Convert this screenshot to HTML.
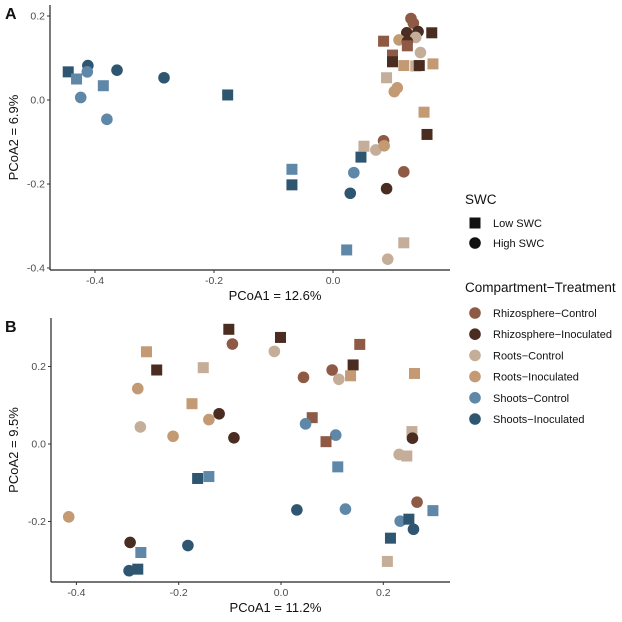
<!DOCTYPE html>
<html><head><meta charset="utf-8"><style>
body{margin:0;background:#fff;}
svg{display:block;font-family:"Liberation Sans",Arial,sans-serif;}
</style></head><body>
<svg id="chart" width="622" height="622" viewBox="0 0 622 622"></svg>
<script>
// Groups: 0 Rhizosphere-Control, 1 Rhizosphere-Inoculated, 2 Roots-Control, 3 Roots-Inoculated, 4 Shoots-Control, 5 Shoots-Inoculated
const groupNames = ["Rhizosphere\u2212Control","Rhizosphere\u2212Inoculated","Roots\u2212Control","Roots\u2212Inoculated","Shoots\u2212Control","Shoots\u2212Inoculated"];
const groupColors = ["#8f5a45","#4a2c20","#c4ad99","#c49a74","#5e87a8","#2e5670"];
// shape: s = Low SWC (square), c = High SWC (circle)
const aX = [-0.445,-0.431,-0.412,-0.413,-0.386,-0.363,-0.424,-0.380,-0.284,-0.177,-0.069,-0.069,0.047,0.035,0.029,0.023,0.092,0.119,0.090,0.119,0.052,0.072,0.085,0.086,0.153,0.158,0.090,0.103,0.108,0.131,0.135,0.124,0.143,0.166,0.085,0.111,0.139,0.125,0.125,0.147,0.100,0.100,0.119,0.139,0.145,0.168];
const aY = [0.067,0.050,0.082,0.067,0.034,0.071,0.006,-0.046,0.053,0.012,-0.165,-0.202,-0.136,-0.173,-0.222,-0.357,-0.379,-0.340,-0.211,-0.171,-0.110,-0.119,-0.097,-0.109,-0.029,-0.082,0.053,0.020,0.029,0.194,0.183,0.160,0.163,0.160,0.140,0.143,0.149,0.139,0.129,0.113,0.107,0.091,0.082,0.081,0.082,0.086];
const aG = [5,4,5,4,4,5,4,4,5,5,4,5,5,4,5,4,2,2,1,0,2,2,0,3,3,1,2,3,3,0,0,1,1,1,0,3,2,1,0,2,0,1,3,2,1,3];
const aS = ["s","s","c","c","s","c","c","c","c","s","s","s","s","c","c","s","c","s","c","c","s","c","c","c","s","s","s","c","c","c","c","c","c","s","s","c","c","c","s","c","s","s","s","s","s","s"];
const bX = [-0.102,-0.095,-0.001,-0.013,-0.263,-0.243,-0.152,-0.280,0.044,-0.174,-0.121,-0.141,-0.275,-0.211,-0.092,-0.163,-0.141,0.031,-0.415,-0.295,-0.182,-0.274,-0.297,-0.280,0.154,0.141,0.100,0.113,0.136,0.261,0.061,0.048,0.107,0.088,0.111,0.256,0.257,0.231,0.246,0.126,0.266,0.297,0.233,0.250,0.259,0.214,0.208];
const bY = [0.296,0.258,0.275,0.239,0.238,0.191,0.197,0.143,0.172,0.104,0.078,0.063,0.044,0.020,0.016,-0.089,-0.084,-0.170,-0.188,-0.254,-0.262,-0.280,-0.327,-0.323,0.257,0.204,0.191,0.167,0.176,0.182,0.068,0.052,0.023,0.006,-0.059,0.032,0.015,-0.027,-0.031,-0.168,-0.150,-0.172,-0.199,-0.194,-0.220,-0.243,-0.303];
const bG = [1,0,1,2,3,1,2,3,0,3,1,3,2,3,1,5,4,5,3,1,5,4,5,5,0,1,0,2,3,3,0,4,4,0,4,2,1,2,2,4,0,4,4,5,5,5,2];
const bS = ["s","c","s","c","s","s","s","c","c","s","c","c","c","c","c","s","s","c","c","c","c","s","c","s","s","s","c","c","s","s","s","c","c","s","s","s","c","c","s","c","c","s","c","s","c","s","s"];
const aXTicks = [-0.4,-0.2,0.0];
const aYTicks = [0.2,0.0,-0.2,-0.4];
const bXTicks = [-0.4,-0.2,0.0,0.2];
const bYTicks = [0.2,0.0,-0.2];

const NS = "http://www.w3.org/2000/svg";
const svg = document.getElementById("chart");
function mk(tag, attrs, parent){const e=document.createElementNS(NS,tag);for(const k in attrs)e.setAttribute(k,attrs[k]);(parent||svg).appendChild(e);return e;}

const panels = [
 {id:"a", letter:"A", x0:50, x1:450, yTop:5, yBot:270, sx:v=>333+v*595, sy:v=>100-v*420, X:aX, Y:aY, G:aG, S:aS, xt:aXTicks, yt:aYTicks, xlab:"PCoA1 = 12.6%", ylab:"PCoA2 = 6.9%"},
 {id:"b", letter:"B", x0:51, x1:450, yTop:318, yBot:582, sx:v=>281+v*511.5, sy:v=>444-v*387.5, X:bX, Y:bY, G:bG, S:bS, xt:bXTicks, yt:bYTicks, xlab:"PCoA1 = 11.2%", ylab:"PCoA2 = 9.5%"}
];
panels.forEach(p=>{
  const g = mk("g",{});
  
  
  const lt = mk("text",{x:5,y:p.yTop+14,"font-size":16,"font-weight":"bold",fill:"#111"},g); lt.textContent=p.letter;
  
  
  // points
  p.X.forEach((xv,i)=>{
    const cx=p.sx(xv), cy=p.sy(p.Y[i]), col=groupColors[p.G[i]];
    let e;
    if(p.S[i]==="s") e=mk("rect",{x:cx-5.5,y:cy-5.5,width:11,height:11,fill:col},g);
    else e=mk("circle",{cx:cx,cy:cy,r:5.8,fill:col},g);
    
    
  });
  // axes
  const ya = mk("line",{x1:p.x0,y1:p.yTop,x2:p.x0,y2:p.yBot,stroke:"#222","stroke-width":1.2},g);
  
  
  const xa = mk("line",{x1:p.x0,y1:p.yBot,x2:p.x1,y2:p.yBot,stroke:"#222","stroke-width":1.2},g);
  
  
  p.xt.forEach(v=>{
    const x=p.sx(v);
    mk("line",{x1:x,y1:p.yBot,x2:x,y2:p.yBot+3,stroke:"#333"},g);
    const t=mk("text",{x:x,y:p.yBot+14,"font-size":10.5,fill:"#4d4d4d","text-anchor":"middle"},g);
    t.textContent=v.toFixed(1);
    
    
  });
  p.yt.forEach(v=>{
    const y=p.sy(v);
    mk("line",{x1:p.x0-3,y1:y,x2:p.x0,y2:y,stroke:"#333"},g);
    const t=mk("text",{x:p.x0-5,y:y+3.7,"font-size":10.5,fill:"#4d4d4d","text-anchor":"end"},g);
    t.textContent=v.toFixed(1);
    
    
  });
  const xl=mk("text",{x:(p.x0+p.x1)/2+25,y:p.yBot+30,"font-size":13,fill:"#111","text-anchor":"middle"},g);
  xl.textContent=p.xlab;
  
  
  const ym=(p.yTop+p.yBot)/2;
  const yl=mk("text",{x:14,y:ym,"font-size":13,fill:"#111","text-anchor":"middle",transform:"rotate(-90 14 "+ym+")"},g);
  yl.setAttribute("dy","4");
  yl.textContent=p.ylab;
  
  
});

// legend
const lg = mk("g",{});


const t1=mk("text",{x:465,y:204,"font-size":13.5,fill:"#111"},lg); t1.textContent="SWC";


const sq=mk("rect",{x:469.5,y:217.5,width:11,height:11,fill:"#111"},lg);


const l1=mk("text",{x:493,y:227,"font-size":11,fill:"#111"},lg); l1.textContent="Low SWC";


const ci=mk("circle",{cx:475,cy:243,r:5.8,fill:"#111"},lg);


const l2=mk("text",{x:493,y:247,"font-size":11,fill:"#111"},lg); l2.textContent="High SWC";


const t2=mk("text",{x:465,y:292,"font-size":13.5,fill:"#111"},lg); t2.textContent="Compartment\u2212Treatment";


groupNames.forEach((n,i)=>{
  const y=313+i*21.2;
  const c=mk("circle",{cx:475,cy:y,r:5.8,fill:groupColors[i]},lg);
  
  
  const t=mk("text",{x:493,y:y+4,"font-size":11,fill:"#111"},lg); t.textContent=n;
  
  
});
</script>
</body></html>
